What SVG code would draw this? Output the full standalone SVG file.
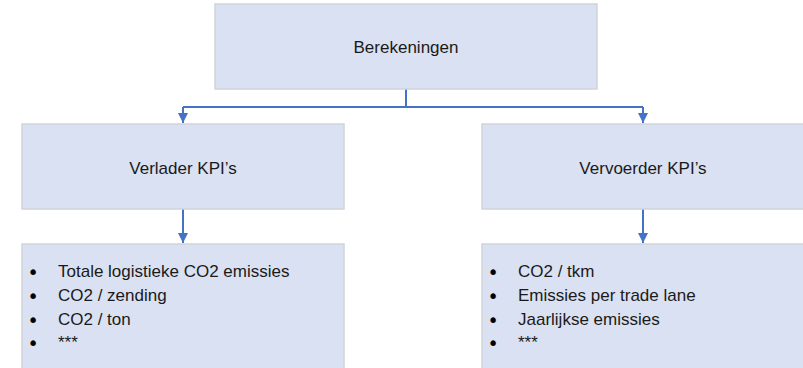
<svg xmlns="http://www.w3.org/2000/svg" width="803" height="368" viewBox="0 0 803 368">
<defs>
<style>
.box{fill:#dae1f2;stroke:#d0d3da;stroke-width:1.5}
.t{font-family:"Liberation Sans",Arial,sans-serif;font-size:17px;fill:#1a1a1a}
.b{font-family:"DejaVu Sans",sans-serif;font-size:19px;fill:#000000}
.c{text-anchor:middle}
.ln{fill:none;stroke:#4472c4;stroke-width:2}
</style>
<marker id="ah" viewBox="0 0 10 10" refX="10" refY="5" markerWidth="10" markerHeight="10" markerUnits="userSpaceOnUse" orient="auto">
<path d="M0,0 L10,5 L0,10 Z" fill="#4472c4"/>
</marker>
</defs>
<rect width="803" height="368" fill="#ffffff"/>
<g id="connectors">
<path class="ln" d="M406,89 V107"/>
<path class="ln" d="M183,107 H643"/>
<path class="ln" d="M183,107 V123" marker-end="url(#ah)"/>
<path class="ln" d="M643,107 V123" marker-end="url(#ah)"/>
<path class="ln" d="M183,209 V243" marker-end="url(#ah)"/>
<path class="ln" d="M643,209 V243" marker-end="url(#ah)"/>
</g>
<g id="berekeningen">
<rect class="box" x="215" y="4" width="382" height="85"/>
<text class="t c" x="406" y="53">Berekeningen</text>
</g>
<g id="verlader">
<rect class="box" x="22" y="124" width="322" height="85"/>
<text class="t c" x="183" y="174">Verlader KPI’s</text>
</g>
<g id="vervoerder">
<rect class="box" x="482" y="124" width="324" height="85"/>
<text class="t c" x="643" y="174">Vervoerder KPI’s</text>
</g>
<g id="verlader-list">
<rect class="box" x="22" y="244" width="322" height="130"/>
<text class="b c" x="33" y="279">•</text>
<text class="t" x="58" y="277">Totale logistieke CO2 emissies</text>
<text class="b c" x="33" y="303">•</text>
<text class="t" x="58" y="301">CO2 / zending</text>
<text class="b c" x="33" y="327">•</text>
<text class="t" x="58" y="325">CO2 / ton</text>
<text class="b c" x="33" y="350">•</text>
<text class="t" x="58" y="348">***</text>
</g>
<g id="vervoerder-list">
<rect class="box" x="482" y="244" width="324" height="130"/>
<text class="b c" x="493" y="279">•</text>
<text class="t" x="518" y="277">CO2 / tkm</text>
<text class="b c" x="493" y="303">•</text>
<text class="t" x="518" y="301">Emissies per trade lane</text>
<text class="b c" x="493" y="327">•</text>
<text class="t" x="518" y="325">Jaarlijkse emissies</text>
<text class="b c" x="493" y="350">•</text>
<text class="t" x="518" y="348">***</text>
</g>
</svg>
